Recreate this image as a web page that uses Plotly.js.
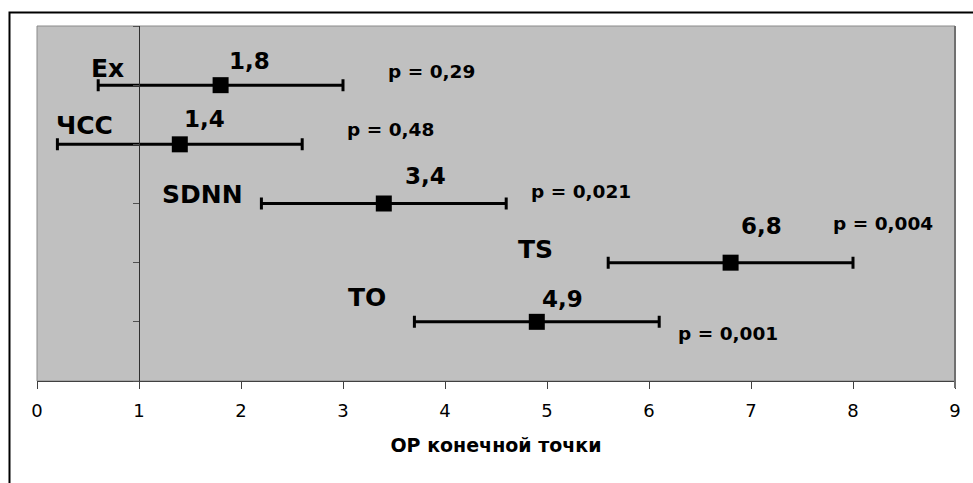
<!DOCTYPE html>
<html>
<head>
<meta charset="utf-8">
<script src="https://cdn.plot.ly/plotly-3.0.1.min.js"></script>
<style>html,body{margin:0;padding:0;background:#fff;}#chart{width:973px;height:483px;}</style>
</head>
<body>
<div id="chart"></div>
<script>
// ---- data ----
var categories = ["Ex", "ЧСС", "SDNN", "TS", "TO"];
var rr = [1.8, 1.4, 3.4, 6.8, 4.9];
var ciLow = [0.6, 0.2, 2.2, 5.6, 3.7];
var ciHigh = [3.0, 2.6, 4.6, 8.0, 6.1];
var pValues = ["p = 0,29", "p = 0,48", "p = 0,021", "p = 0,004", "p = 0,001"];
var xTicks = [0, 1, 2, 3, 4, 5, 6, 7, 8, 9];
var xTitle = "ОР конечной точки";

// ---- layout helpers (pixel offsets of labels relative to each point) ----
var rowPos = [5, 4, 3, 2, 1];
var catOffset = [[-113, -17], [-95, -19], [-181, -9], [-195, -13], [-170, -24]];
var valOffset = [[29, -24], [25, -25], [42, -28], [31, -37], [26, -23]];
var pOffset = [[211, -14], [211, -15], [197, -12], [152, -39], [191, 12]];

var fontBold = "DejaVu Sans, Arial, sans-serif";

var trace = {
  type: "scatter",
  mode: "markers",
  x: rr,
  y: rowPos,
  marker: {symbol: "square", size: 16, color: "#000"},
  error_x: {
    type: "data",
    symmetric: false,
    array: ciHigh.map(function (h, i) { return h - rr[i]; }),
    arrayminus: ciLow.map(function (l, i) { return rr[i] - l; }),
    color: "#000",
    thickness: 3,
    width: 6
  },
  hoverinfo: "skip",
  showlegend: false
};

var annotations = [];
for (var i = 0; i < categories.length; i++) {
  annotations.push({
    x: rr[i], y: rowPos[i], xref: "x", yref: "y", text: "<b>" + categories[i] + "</b>",
    showarrow: false, xanchor: "center", yanchor: "middle",
    xshift: catOffset[i][0], yshift: -catOffset[i][1],
    font: {family: fontBold, size: 25, color: "#000"}
  });
  annotations.push({
    x: rr[i], y: rowPos[i], xref: "x", yref: "y", text: "<b>" + String(rr[i]).replace(".", ",") + "</b>",
    showarrow: false, xanchor: "center", yanchor: "middle",
    xshift: valOffset[i][0], yshift: -valOffset[i][1],
    font: {family: fontBold, size: 23, color: "#000"}
  });
  annotations.push({
    x: rr[i], y: rowPos[i], xref: "x", yref: "y", text: "<b>" + pValues[i] + "</b>",
    showarrow: false, xanchor: "center", yanchor: "middle",
    xshift: pOffset[i][0], yshift: -pOffset[i][1],
    font: {family: fontBold, size: 18.5, color: "#000"}
  });
}

var layout = {
  width: 973,
  height: 483,
  margin: {l: 37, r: 18, t: 26, b: 102},
  paper_bgcolor: "#ffffff",
  plot_bgcolor: "#c0c0c0",
  showlegend: false,
  xaxis: {
    range: [0, 9],
    tickvals: xTicks,
    ticktext: xTicks.map(String),
    showgrid: false,
    zeroline: false,
    showline: true,
    linecolor: "#404040",
    linewidth: 1,
    ticks: "outside",
    ticklen: 7,
    tickwidth: 1,
    tickcolor: "#404040",
    ticklabelstandoff: 6,
    tickfont: {family: "DejaVu Sans, Arial, sans-serif", size: 18, color: "#000"},
    title: {text: "<b>" + xTitle + "</b>", font: {family: fontBold, size: 19, color: "#000"}, standoff: 19},
    fixedrange: true
  },
  yaxis: {
    range: [0, 6],
    dtick: 1,
    tick0: 0,
    anchor: "free",
    position: 1 / 9,
    showgrid: false,
    zeroline: false,
    showline: true,
    linecolor: "#303030",
    linewidth: 1,
    ticks: "outside",
    ticklen: 6,
    tickwidth: 1,
    tickcolor: "#505050",
    showticklabels: false,
    fixedrange: true
  },
  shapes: [
    {type: "rect", xref: "paper", yref: "paper", x0: 0, x1: 1, y0: 0, y1: 1,
     line: {color: "#8a8a8a", width: 1}, layer: "below"},
    {type: "line", xref: "paper", yref: "paper", x0: 1, x1: 1, y0: -0.02, y1: 1,
     line: {color: "#707070", width: 2}},
    {type: "rect", xref: "paper", yref: "paper", x0: -0.02996, x1: 1.06, y0: -0.5, y1: 1.038,
     line: {color: "#000", width: 2}}
  ],
  annotations: annotations
};

Plotly.newPlot("chart", [trace], layout, {displayModeBar: false, staticPlot: true});
</script>
</body>
</html>
